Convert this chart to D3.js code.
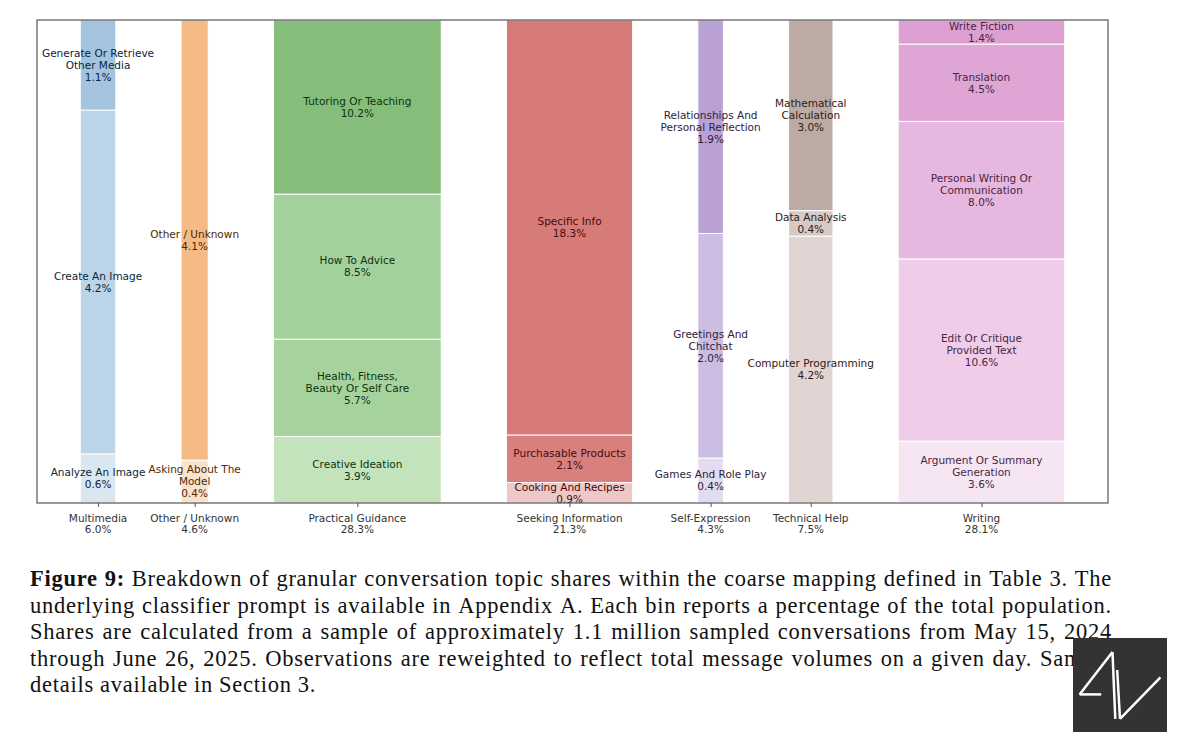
<!DOCTYPE html>
<html>
<head>
<meta charset="utf-8">
<script src="https://cdn.jsdelivr.net/npm/d3@7"></script>
<style>
  body { margin: 0; background: #fff; }
</style>
</head>
<body>
<div id="chart"></div>
<script>
// ---- data ----
const categories = [
  'Multimedia',
  'Other / Unknown',
  'Practical Guidance',
  'Seeking Information',
  'Self-Expression',
  'Technical Help',
  'Writing'
]
const categoryShares = [6.0, 4.6, 28.3, 21.3, 4.3, 7.5, 28.1]

// topics inside each category, listed bottom to top
const topicNames = [
  ['Analyze An Image', 'Create An Image', 'Generate Or Retrieve\nOther Media'],
  ['Asking About The\nModel', 'Other / Unknown'],
  ['Creative Ideation', 'Health, Fitness,\nBeauty Or Self Care', 'How To Advice', 'Tutoring Or Teaching'],
  ['Cooking And Recipes', 'Purchasable Products', 'Specific Info'],
  ['Games And Role Play', 'Greetings And\nChitchat', 'Relationships And\nPersonal Reflection'],
  ['Computer Programming', 'Data Analysis', 'Mathematical\nCalculation'],
  ['Argument Or Summary\nGeneration', 'Edit Or Critique\nProvided Text', 'Personal Writing Or\nCommunication', 'Translation', 'Write Fiction']
]
const topicShares = [
  [0.6, 4.2, 1.1],
  [0.4, 4.1],
  [3.9, 5.7, 8.5, 10.2],
  [0.9, 2.1, 18.3],
  [0.4, 2.0, 1.9],
  [4.2, 0.4, 3.0],
  [3.6, 10.6, 8.0, 4.5, 1.4]
]

const captionLines = [
  'Figure 9: Breakdown of granular conversation topic shares within the coarse mapping defined in Table 3. The',
  'underlying classifier prompt is available in Appendix A. Each bin reports a percentage of the total population.',
  'Shares are calculated from a sample of approximately 1.1 million sampled conversations from May 15, 2024',
  'through June 26, 2025. Observations are reweighted to reflect total message volumes on a given day. Sample',
  'details available in Section 3.'
]

// ---- styles ----
const baseColors = ['#1f77b4', '#ff7f0e', '#2ca02c', '#d62728', '#9467bd', '#8c564b', '#e377c2']
const topicColors = [
  ['#dae6f0', '#bcd4e7', '#a4c3de'],
  ['#fae3cd', '#f5bb84'],
  ['#c3e3bd', '#a5d29d', '#a3d19b', '#85be7b'],
  ['#eec8c7', '#d9807d', '#d77b78'],
  ['#e3dbef', '#cbbee2', '#b9a0d5'],
  ['#e0d5d2', '#d6cac6', '#bcaaa4'],
  ['#f6e6f3', '#efcde9', '#e6b7df', '#dfa5d4', '#dea0d2']
]

const width = 1179
const height = 744
const plot = { left: 37, right: 1108, top: 20, bottom: 503 }
const gap = 11.0
const pad = 7.3

const svg = d3
  .select('#chart')
  .append('svg')
  .attr('width', width)
  .attr('height', height)
  .style('font-family', 'DejaVu Sans, sans-serif')

// column start positions in share units
const starts = []
let cur = pad
categoryShares.forEach(s => {
  starts.push(cur)
  cur += s + gap
})
const total = cur - gap + pad

const xScale = d3.scaleLinear().domain([0, total]).range([plot.left, plot.right])
const yScale = d3.scaleLinear().domain([0, 1]).range([plot.bottom, plot.top])

const blocks = []
categories.forEach((c, i) => {
  const sum = d3.sum(topicShares[i])
  let acc = 0
  topicShares[i].forEach((v, j) => {
    blocks.push({
      col: i,
      name: topicNames[i][j],
      value: v,
      x0: starts[i],
      x1: starts[i] + categoryShares[i],
      y0: acc / sum,
      y1: (acc + v) / sum,
      color: topicColors[i][j]
    })
    acc += v
  })
})

svg
  .selectAll('.block')
  .data(blocks)
  .enter()
  .append('rect')
  .attr('class', 'block')
  .attr('x', d => xScale(d.x0))
  .attr('width', d => xScale(d.x1) - xScale(d.x0))
  .attr('y', d => yScale(d.y1))
  .attr('height', d => yScale(d.y0) - yScale(d.y1))
  .attr('fill', d => d.color)
  .attr('stroke', '#fff')
  .attr('stroke-width', 1)

// block labels
const lineH = 12
const labels = svg
  .selectAll('.topic-label')
  .data(blocks)
  .enter()
  .append('text')
  .attr('class', 'topic-label')
  .attr('text-anchor', 'middle')
  .attr('font-size', 10.5)
  .attr('fill', d => d3.color(baseColors[d.col]).darker(3.2))

labels.each(function(d) {
  const lines = d.name.split('\n').concat([d.value.toFixed(1) + '%'])
  const cx = xScale((d.x0 + d.x1) / 2)
  const cy = yScale((d.y0 + d.y1) / 2)
  d3.select(this)
    .selectAll('tspan')
    .data(lines)
    .enter()
    .append('tspan')
    .attr('x', cx)
    .attr('y', (l, k) => cy + (k - (lines.length - 1) / 2) * lineH + 3.8)
    .text(l => l)
})

// x axis ticks at column centres
const centers = categories.map((c, i) => starts[i] + categoryShares[i] / 2)
const axis = svg
  .append('g')
  .attr('transform', 'translate(0,' + plot.bottom + ')')
  .call(
    d3
      .axisBottom(xScale)
      .tickValues(centers)
      .tickSize(4)
      .tickSizeOuter(0)
      .tickFormat('')
  )
axis.select('.domain').remove()
axis.selectAll('.tick line').attr('stroke', '#555')

svg
  .selectAll('.cat-label')
  .data(categories)
  .enter()
  .append('text')
  .attr('class', 'cat-label')
  .attr('text-anchor', 'middle')
  .attr('font-size', 10.5)
  .attr('fill', '#333')
  .each(function(c, i) {
    const t = d3.select(this)
    const cx = xScale(centers[i])
    t.append('tspan').attr('x', cx).attr('y', 521.5).text(c)
    t.append('tspan').attr('x', cx).attr('y', 533.3).text(categoryShares[i].toFixed(1) + '%')
  })

// frame
svg
  .append('rect')
  .attr('x', plot.left)
  .attr('y', plot.top)
  .attr('width', plot.right - plot.left)
  .attr('height', plot.bottom - plot.top)
  .attr('fill', 'none')
  .attr('stroke', '#555')
  .attr('stroke-width', 1.2)

// caption, justified like the paper
const capLeft = 30
const capRight = 1112
const caption = svg
  .append('g')
  .style('font-family', 'Liberation Serif, serif')
  .style('letter-spacing', '0.75px')
  .attr('font-size', 22.5)
  .attr('fill', '#111')

captionLines.forEach((line, li) => {
  const words = line.split(' ')
  const y = 586 + li * 26.5
  const nodes = words.map((w, wi) =>
    caption
      .append('text')
      .attr('y', y)
      .attr('font-weight', li === 0 && wi < 2 ? 'bold' : 'normal')
      .text(w)
  )
  const widths = nodes.map(n => n.node().getComputedTextLength())
  const last = li === captionLines.length - 1
  const space = last ? 6 : (capRight - capLeft - d3.sum(widths)) / (words.length - 1)
  let x = capLeft
  nodes.forEach((n, k) => {
    n.attr('x', x)
    x += widths[k] + space
  })
})

// watermark logo
const logo = svg.append('g').attr('transform', 'translate(1073,638)')
logo.append('rect').attr('width', 94).attr('height', 94).attr('fill', '#333')
const logoLines = [
  [[0.07, 0.6], [0.42, 0.15]],
  [[0.42, 0.15], [0.45, 0.86]],
  [[0.07, 0.6], [0.3, 0.6]],
  [[0.47, 0.34], [0.5, 0.86]],
  [[0.5, 0.86], [0.93, 0.42]]
]
logo
  .selectAll('line')
  .data(logoLines)
  .enter()
  .append('line')
  .attr('x1', d => d[0][0] * 94)
  .attr('y1', d => d[0][1] * 94)
  .attr('x2', d => d[1][0] * 94)
  .attr('y2', d => d[1][1] * 94)
  .attr('stroke', '#fff')
  .attr('stroke-width', 2.5)
</script>
</body>
</html>
